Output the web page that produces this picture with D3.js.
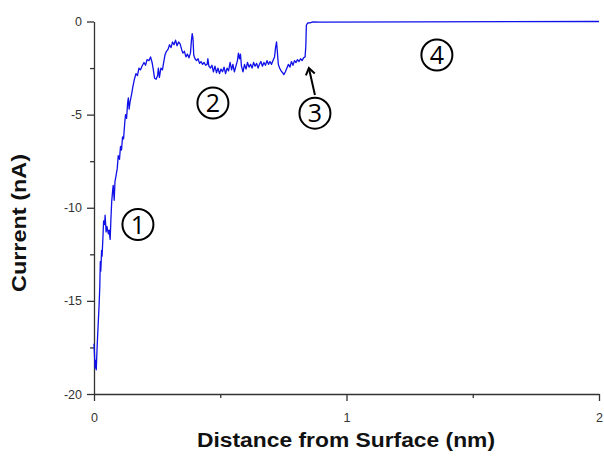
<!DOCTYPE html>
<html>
<head>
<meta charset="utf-8">
<script src="https://cdn.jsdelivr.net/npm/d3@7"></script>
<style>
  html, body { margin: 0; padding: 0; background: #fff; }
  svg { display: block; }
</style>
</head>
<body>
<svg id="chart" width="604" height="457"></svg>
<script>
// Tip–surface approach trace: distance (nm) and measured current (nA)
const distance = [
  0.000, 0.002, 0.004, 0.006, 0.009, 0.012, 0.016, 0.020, 0.023, 0.025,
  0.027, 0.030, 0.032, 0.036, 0.038, 0.042, 0.044, 0.048, 0.051, 0.057,
  0.060, 0.064, 0.067, 0.070, 0.073, 0.076, 0.080, 0.083, 0.087, 0.092,
  0.096, 0.101, 0.105, 0.109, 0.113, 0.117, 0.122, 0.125, 0.129, 0.133,
  0.136, 0.139, 0.143, 0.149, 0.154, 0.160, 0.166, 0.172, 0.178, 0.184,
  0.190, 0.198, 0.204, 0.210, 0.218, 0.224, 0.230, 0.235, 0.240, 0.246,
  0.252, 0.255, 0.259, 0.265, 0.271, 0.276, 0.281, 0.287, 0.293, 0.299,
  0.305, 0.311, 0.317, 0.323, 0.329, 0.335, 0.341, 0.347, 0.352, 0.358,
  0.364, 0.370, 0.376, 0.382, 0.386, 0.389, 0.392, 0.395, 0.400, 0.406,
  0.412, 0.418, 0.424, 0.430, 0.436, 0.442, 0.448, 0.451, 0.455, 0.461,
  0.467, 0.473, 0.479, 0.485, 0.491, 0.497, 0.503, 0.509, 0.515, 0.521,
  0.527, 0.533, 0.539, 0.545, 0.550, 0.556, 0.562, 0.568, 0.572, 0.576,
  0.580, 0.584, 0.590, 0.596, 0.602, 0.608, 0.614, 0.620, 0.626, 0.632,
  0.638, 0.644, 0.650, 0.655, 0.661, 0.667, 0.673, 0.679, 0.685, 0.691,
  0.697, 0.703, 0.709, 0.715, 0.719, 0.723, 0.726, 0.730, 0.735, 0.741,
  0.747, 0.752, 0.758, 0.764, 0.770, 0.776, 0.782, 0.788, 0.794, 0.800,
  0.806, 0.812, 0.818, 0.824, 0.830, 0.836, 0.839, 0.841, 0.846, 0.855,
  0.867, 0.895, 2.000
];
const current = [
  -17.3, -17.9, -18.6, -18.2, -18.7, -17.6, -16.4, -15.3, -14.2, -12.9,
  -13.4, -12.3, -12.6, -11.4, -10.7, -10.9, -10.4, -11.3, -11.0, -11.4,
  -11.2, -11.7, -10.6, -9.7, -9.2, -8.8, -9.6, -8.6, -8.3, -7.9,
  -7.2, -7.4, -6.7, -6.9, -6.2, -6.3, -5.4, -5.0, -5.2, -4.4,
  -4.1, -4.7, -4.3, -3.9, -3.5, -3.1, -2.8, -2.9, -2.5, -2.6,
  -2.4, -2.2, -2.35, -2.05, -2.1, -1.9, -2.2, -2.6, -3.05, -3.1,
  -2.9, -2.5, -3.0, -2.5, -2.6, -2.2, -1.8, -1.6, -1.5, -1.25,
  -1.4, -1.1, -1.25, -1.0, -1.3, -1.1, -1.2, -1.5, -1.7, -1.6,
  -1.9, -1.75, -1.95, -1.7, -1.0, -0.65, -0.9, -1.8, -2.0, -2.1,
  -2.0, -2.25, -2.15, -2.3, -2.2, -2.35, -2.3, -2.0, -2.4, -2.5,
  -2.35, -2.7, -2.4, -2.75, -2.5, -2.8, -2.55, -2.7, -2.45, -2.8,
  -2.5, -2.65, -2.2, -2.6, -2.3, -2.7, -2.4, -2.1, -1.7, -2.0,
  -1.75, -2.4, -2.7, -2.3, -2.55, -2.2, -2.45, -2.3, -2.5, -2.2,
  -2.4, -2.25, -2.5, -2.3, -2.15, -2.4, -2.2, -2.35, -2.1, -2.3,
  -2.15, -2.3, -2.1, -1.9, -1.4, -1.1, -1.6, -2.3, -2.5, -2.65,
  -2.75, -2.85, -2.7, -2.5, -2.3, -2.45, -2.15, -2.35, -2.1, -2.2,
  -2.05, -2.15, -2.0, -2.1, -1.95, -1.9, -1.3, -0.2, -0.08, -0.07,
  -0.02, -0.03, 0.0
];

// Axis ticks
const xMajorTicks = [0, 1, 2];
const xMinorTicks = [0.5, 1.5];
const yMajorTicks = [0, -5, -10, -15, -20];
const yMinorTicks = [-2.5, -7.5, -12.5, -17.5];

// Region markers (circled numbers) placed in data units
const markerLabels = ["1", "2", "3", "4"];
const markerX = [0.174, 0.471, 0.875, 1.358];
const markerY = [-10.9, -4.38, -4.92, -1.8];

// Arrow pointing at the step of region 3
const arrowFrom = [0.875, -3.95];
const arrowTo = [0.851, -2.5];

const svg = d3.select("#chart");
const axisColor = "#333";

const x = d3.scaleLinear().domain([0, 2]).range([94, 599]);
const y = d3.scaleLinear().domain([-20, 0]).range([394, 21.5]);

// x axis: major + minor ticks
const xAxisG = svg.append("g").attr("transform", `translate(0,${y(-20)})`);
xAxisG.call(d3.axisBottom(x).tickValues(xMajorTicks).tickFormat(d3.format("d"))
  .tickSize(7).tickPadding(4).tickSizeOuter(0));
xAxisG.append("g").call(d3.axisBottom(x).tickValues(xMinorTicks).tickFormat("")
  .tickSize(4).tickSizeOuter(0)).select(".domain").remove();

// y axis: major + minor ticks
const yAxisG = svg.append("g").attr("transform", `translate(${x(0)},0)`);
yAxisG.call(d3.axisLeft(y).tickValues(yMajorTicks).tickFormat(d => d3.format("d")(d).replace("\u2212", "-"))
  .tickSize(7).tickPadding(5).tickSizeOuter(0));
yAxisG.append("g").call(d3.axisLeft(y).tickValues(yMinorTicks).tickFormat("")
  .tickSize(4).tickSizeOuter(0)).select(".domain").remove();

svg.selectAll(".domain, .tick line").attr("stroke", axisColor).attr("stroke-width", 1.3);
svg.selectAll(".tick text")
  .attr("fill", "#333")
  .style("font-family", "'Liberation Sans', Arial, sans-serif")
  .style("font-size", "12.5px");
xAxisG.selectAll(".tick text").attr("dy", "1.35em");

// Current trace
const pts = distance.map((d, i) => [d, current[i]]);
svg.append("path")
  .datum(pts)
  .attr("fill", "none")
  .attr("stroke", "#1010e8")
  .attr("stroke-width", 1.3)
  .attr("stroke-linejoin", "round")
  .attr("d", d3.line().x(d => x(d[0])).y(d => y(d[1])));

// Axis titles
svg.append("text")
  .attr("x", 346).attr("y", 447)
  .attr("text-anchor", "middle")
  .attr("textLength", 298).attr("lengthAdjust", "spacingAndGlyphs")
  .style("font-family", "'Liberation Sans', Arial, sans-serif")
  .style("font-weight", "bold").style("font-size", "20px")
  .attr("fill", "#111")
  .text("Distance from Surface (nm)");

svg.append("text")
  .attr("transform", "translate(26,223) rotate(-90)")
  .attr("text-anchor", "middle")
  .attr("textLength", 138).attr("lengthAdjust", "spacingAndGlyphs")
  .style("font-family", "'Liberation Sans', Arial, sans-serif")
  .style("font-weight", "bold").style("font-size", "20px")
  .attr("fill", "#111")
  .text("Current (nA)");

// Circled region numbers
const markers = svg.selectAll("g.marker")
  .data(markerLabels)
  .join("g")
  .attr("class", "marker")
  .attr("transform", (d, i) => `translate(${x(markerX[i])},${y(markerY[i])})`);
markers.append("circle")
  .attr("r", 15.5)
  .attr("fill", "none")
  .attr("stroke", "#000")
  .attr("stroke-width", 2);
markers.append("text")
  .attr("text-anchor", "middle")
  .attr("y", 9)
  .style("font-family", "'Open Sans', 'Noto Sans', sans-serif")
  .style("font-size", "25px")
  .attr("fill", "#000")
  .text(d => d);

// Arrow to the step
const ax0 = x(arrowFrom[0]), ay0 = y(arrowFrom[1]);
const ax1 = x(arrowTo[0]), ay1 = y(arrowTo[1]);
svg.append("line")
  .attr("x1", ax0).attr("y1", ay0).attr("x2", ax1).attr("y2", ay1)
  .attr("stroke", "#000").attr("stroke-width", 2);
const ang = Math.atan2(ay1 - ay0, ax1 - ax0);
const headLen = 8, spread = 0.6;
svg.append("path")
  .attr("d", `M${ax1 - headLen * Math.cos(ang - spread)},${ay1 - headLen * Math.sin(ang - spread)}L${ax1},${ay1}L${ax1 - headLen * Math.cos(ang + spread)},${ay1 - headLen * Math.sin(ang + spread)}`)
  .attr("fill", "none").attr("stroke", "#000").attr("stroke-width", 2)
  .attr("stroke-linejoin", "miter");
</script>
</body>
</html>
